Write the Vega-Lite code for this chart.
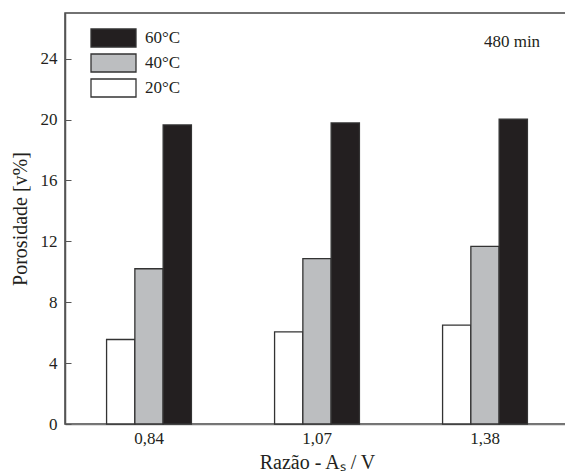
{
  "$schema": "https://vega.github.io/schema/vega-lite/v6.json",
  "width": 504,
  "height": 411,
  "autosize": "none",
  "padding": {"left": 65, "top": 13, "right": 0, "bottom": 50},
  "background": "white",
  "config": {
    "font": "Liberation Serif",
    "view": {"stroke": "#444", "strokeWidth": 1.5}
  },
  "layer": [
    {
      "data": {
        "values": [
          {"razao": "0,84", "temp": "20°C", "porosidade": 5.55},
          {"razao": "0,84", "temp": "40°C", "porosidade": 10.2},
          {"razao": "0,84", "temp": "60°C", "porosidade": 19.65},
          {"razao": "1,07", "temp": "20°C", "porosidade": 6.05},
          {"razao": "1,07", "temp": "40°C", "porosidade": 10.87},
          {"razao": "1,07", "temp": "60°C", "porosidade": 19.78},
          {"razao": "1,38", "temp": "20°C", "porosidade": 6.49},
          {"razao": "1,38", "temp": "40°C", "porosidade": 11.67},
          {"razao": "1,38", "temp": "60°C", "porosidade": 20.02}
        ]
      },
      "mark": {"type": "bar", "stroke": "#333", "strokeWidth": 1.3},
      "encoding": {
        "x": {
          "field": "razao",
          "type": "nominal",
          "sort": ["0,84", "1,07", "1,38"],
          "scale": {"paddingInner": 0, "paddingOuter": 0},
          "axis": {
            "title": "Razão - Aₛ / V",
            "titleFontSize": 20,
            "titleFontWeight": "normal",
            "titleColor": "#231f20",
            "titlePadding": 6,
            "labelFontSize": 17,
            "labelColor": "#231f20",
            "labelPadding": 6,
            "labelAngle": 0,
            "ticks": false,
            "domainColor": "#777",
            "domainWidth": 1.5
          }
        },
        "xOffset": {
          "field": "temp",
          "scale": {
            "domain": ["a", "20°C", "40°C", "60°C", "b"],
            "paddingInner": 0,
            "paddingOuter": 0.47
          }
        },
        "y": {
          "field": "porosidade",
          "type": "quantitative",
          "scale": {"domain": [0, 27], "nice": false},
          "axis": {
            "title": "Porosidade [v%]",
            "titleFontSize": 20,
            "titleFontWeight": "normal",
            "titleColor": "#231f20",
            "titlePadding": 10,
            "values": [0, 2, 4, 6, 8, 10, 12, 14, 16, 18, 20, 22, 24, 26],
            "labelExpr": "datum.value % 4 === 0 ? datum.label : ''",
            "labelFontSize": 17,
            "labelColor": "#231f20",
            "labelPadding": 14,
            "tickSize": -6,
            "tickColor": "#555",
            "domainColor": "#555",
            "domainWidth": 1.5,
            "grid": false
          }
        },
        "fill": {
          "field": "temp",
          "type": "nominal",
          "scale": {
            "domain": ["60°C", "40°C", "20°C"],
            "range": ["#231f20", "#bcbec0", "#ffffff"]
          },
          "legend": {
            "orient": "none",
            "legendX": 38.5,
            "legendY": 15,
            "title": null,
            "padding": 0,
            "symbolType": "M-2.5,-1H2.5V1H-2.5Z",
            "symbolSize": 324,
            "symbolStrokeColor": "#333",
            "symbolStrokeWidth": 1.3,
            "labelFontSize": 17,
            "labelColor": "#231f20",
            "labelOffset": 21.5,
            "labelLimit": 200,
            "rowPadding": 1
          }
        }
      }
    },
    {
      "data": {"values": [{"razao": "1,38", "y": 25.1, "label": "480 min"}]},
      "mark": {"type": "text", "fontSize": 17, "color": "#231f20", "dx": 27, "baseline": "middle"},
      "encoding": {
        "x": {"field": "razao", "type": "nominal"},
        "y": {"field": "y", "type": "quantitative"},
        "text": {"field": "label"}
      }
    }
  ]
}
